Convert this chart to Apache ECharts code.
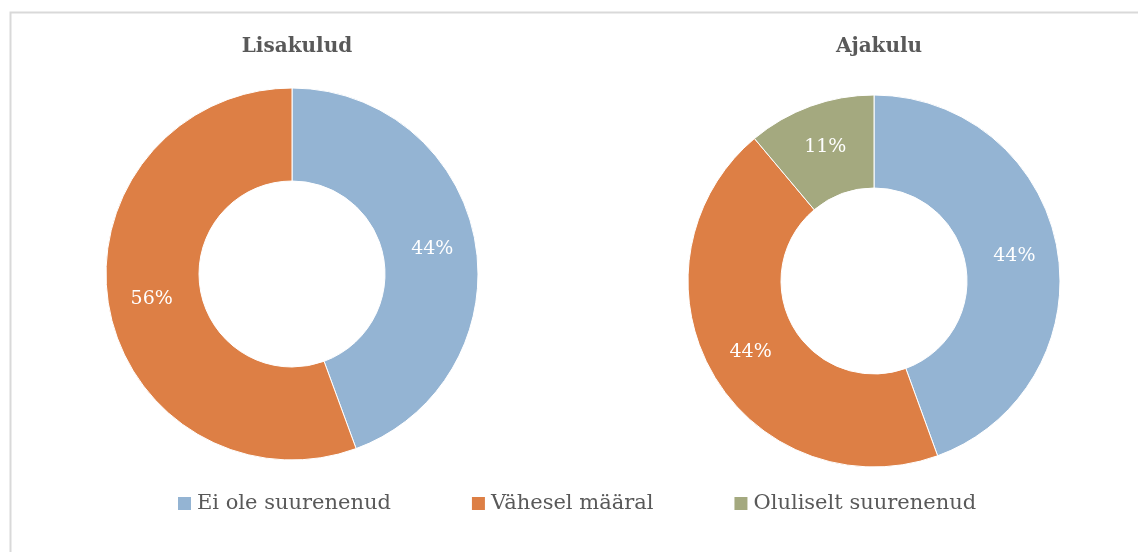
<!DOCTYPE html>
<html>
<head>
<meta charset="utf-8">
<script src="https://cdn.jsdelivr.net/npm/echarts@6/dist/echarts.min.js"></script>
<style>
  html, body { margin: 0; padding: 0; background: #fff; }
  #main { width: 1138px; height: 552px; }
</style>
</head>
<body>
<div id="main"></div>
<script>
// data
const categories = ['Ei ole suurenenud', 'Vähesel määral', 'Oluliselt suurenenud']
const lisakulud = [44.4, 55.6]
const ajakulu = [44.4, 44.4, 11.1]
const colors = ['#94B4D3', '#DD7F45', '#A4A97F']

const font = '"DejaVu Serif", "Liberation Serif", serif'

function toData(values) {
  return values.map((v, i) => ({ value: v, name: categories[i], itemStyle: { color: colors[i] } }))
}

function donut(center, values) {
  return {
    type: 'pie',
    center: center,
    radius: [93, 186],
    startAngle: 90,
    clockwise: true,
    silent: true,
    itemStyle: { borderColor: '#fff', borderWidth: 1 },
    label: {
      show: true,
      position: 'inside',
      formatter: p => Math.round(p.value) + '%',
      color: '#fff',
      fontFamily: font,
      fontSize: 19
    },
    labelLine: { show: false },
    data: toData(values)
  }
}

const myChart = echarts.init(document.getElementById('main'))
myChart.setOption({
  animation: false,
  graphic: [{
    type: 'rect',
    shape: { x: 10.5, y: 12.5, width: 1200, height: 600 },
    style: { fill: 'none', stroke: '#d9d9d9', lineWidth: 2 }
  }],
  title: [
    { text: 'Lisakulud', left: 292, top: 32, textAlign: 'center',
      textStyle: { fontFamily: font, fontSize: 20, fontWeight: 'bold', color: '#595959' } },
    { text: 'Ajakulu', left: 874, top: 32, textAlign: 'center',
      textStyle: { fontFamily: font, fontSize: 20, fontWeight: 'bold', color: '#595959' } }
  ],
  legend: {
    data: categories,
    left: 171,
    top: 488,
    icon: 'rect',
    itemWidth: 15,
    itemHeight: 15,
    itemGap: 79,
    textStyle: { fontFamily: font, fontSize: 21, color: '#595959' }
  },
  series: [
    donut([292, 274], lisakulud),
    donut([874, 281], ajakulu)
  ]
})
</script>
</body>
</html>
